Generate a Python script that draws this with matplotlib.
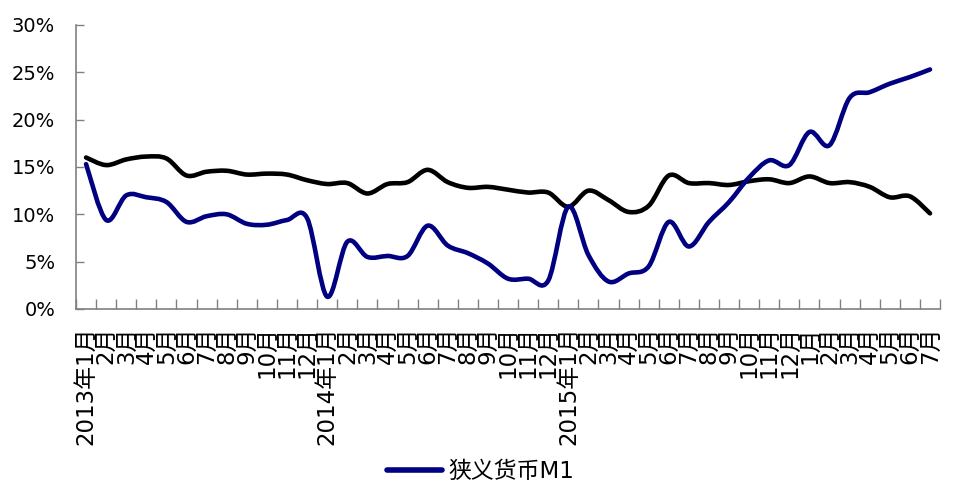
import matplotlib
matplotlib.use("Agg")
import matplotlib.pyplot as plt
from matplotlib.path import Path
from matplotlib.patches import PathPatch
from matplotlib.lines import Line2D
from matplotlib.ticker import FixedLocator, FuncFormatter

plt.rcParams['font.family'] = ['DejaVu Sans', 'Noto Sans CJK SC']

# Month labels, Jan 2013 - Jul 2016
months = (["2013年1月"] + [f"{m}月" for m in range(2, 13)]
          + ["2014年1月"] + [f"{m}月" for m in range(2, 13)]
          + ["2015年1月"] + [f"{m}月" for m in range(2, 13)]
          + [f"{m}月" for m in range(1, 8)])

# Narrow money M1, year-on-year growth (%)
m1 = [15.3, 9.4, 12.0, 11.8, 11.3, 9.2, 9.8, 10.0, 9.0, 8.9, 9.4, 9.6,
      1.3, 7.1, 5.5, 5.6, 5.6, 8.8, 6.7, 5.9, 4.8, 3.2, 3.2, 3.0,
      10.8, 5.7, 2.9, 3.75, 4.5, 9.2, 6.6, 9.2, 11.3, 13.9, 15.7, 15.2,
      18.7, 17.3, 22.3, 22.9, 23.8, 24.5, 25.3]

# Broad money M2, year-on-year growth (%)
m2 = [16.0, 15.2, 15.8, 16.1, 15.9, 14.1, 14.5, 14.6, 14.2, 14.3, 14.2, 13.6,
      13.2, 13.3, 12.2, 13.2, 13.4, 14.7, 13.4, 12.8, 12.9, 12.6, 12.3, 12.3,
      10.8, 12.5, 11.5, 10.25, 10.9, 14.1, 13.3, 13.3, 13.1, 13.5, 13.7, 13.3,
      14.0, 13.3, 13.4, 12.9, 11.8, 11.9, 10.1]

legend_label = "狭义货币M1"
y_ticks = [0, 5, 10, 15, 20, 25, 30]


def smooth_path(values):
    """Bezier path through the points, with Catmull-Rom style handles."""
    pts = list(enumerate(values))
    verts = [pts[0]]
    codes = [Path.MOVETO]
    n = len(pts)
    for i in range(n - 1):
        p0 = pts[i - 1] if i > 0 else pts[i]
        p1 = pts[i]
        p2 = pts[i + 1]
        p3 = pts[i + 2] if i + 2 < n else pts[i + 1]
        c1 = (p1[0] + (p2[0] - p0[0]) / 6, p1[1] + (p2[1] - p0[1]) / 6)
        c2 = (p2[0] - (p3[0] - p1[0]) / 6, p2[1] - (p3[1] - p1[1]) / 6)
        verts += [c1, c2, p2]
        codes += [Path.CURVE4] * 3
    return Path(verts, codes)


fig = plt.figure(figsize=(9.61, 4.91), dpi=100)
ax = fig.add_axes([0.0791, 0.3707, 0.8991, 0.5784])

ax.add_patch(PathPatch(smooth_path(m2), facecolor='none', edgecolor='black',
                       lw=3.3, capstyle='round', joinstyle='round'))
ax.add_patch(PathPatch(smooth_path(m1), facecolor='none', edgecolor='#000080',
                       lw=3.3, capstyle='round', joinstyle='round'))

n = len(months)
ax.set_xlim(-0.5, n - 0.5)
ax.set_ylim(0, 30)

ax.set_yticks(y_ticks)
ax.yaxis.set_major_formatter(FuncFormatter(lambda v, p: f"{v:.0f}%"))
ax.tick_params(axis='y', direction='in', length=6, width=1, color='#808080',
               pad=15, labelsize=14)

ax.set_xticks(range(n))
ax.set_xticklabels(months, rotation=90, fontsize=16.5)
ax.tick_params(axis='x', which='major', length=0, pad=12.5)
ax.xaxis.set_minor_locator(FixedLocator([i - 0.5 for i in range(n + 1)]))
ax.tick_params(axis='x', which='minor', direction='in', length=7, width=1,
               color='#808080')

for side in ('top', 'right'):
    ax.spines[side].set_visible(False)
for side in ('left', 'bottom'):
    ax.spines[side].set_color('#808080')
    ax.spines[side].set_linewidth(1.2)

handle = Line2D([], [], color='#000080', lw=4, solid_capstyle='round')
fig.legend([handle], [legend_label], loc='center', bbox_to_anchor=(0.5, 0.039),
           frameon=False, fontsize=16.5, handlelength=2.4, handletextpad=0.3)

fig.savefig("out.png", dpi=100)
